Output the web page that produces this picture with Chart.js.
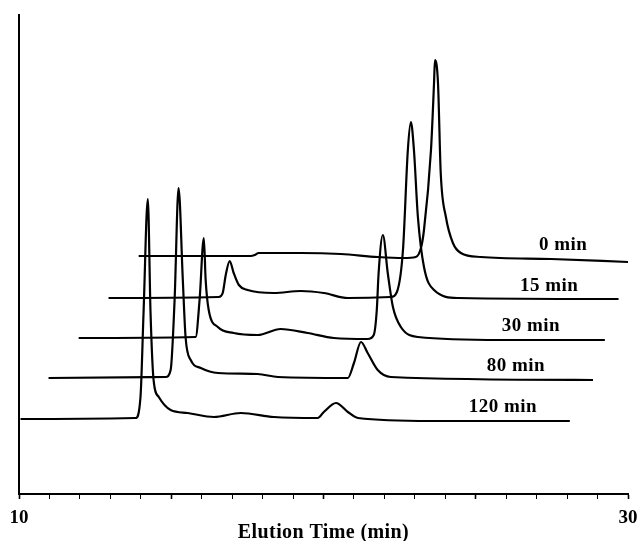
<!DOCTYPE html>
<html>
<head>
<meta charset="utf-8">
<script src="https://cdn.jsdelivr.net/npm/chart.js@4"></script>
<style>
  html, body { margin: 0; padding: 0; background: #fff; overflow: hidden; }
</style>
</head>
<body>
<canvas id="chart" width="642" height="541"></canvas>
<script>
// Elution time (min) as read on the x axis, signal relative to each trace's own baseline
const time0 = [13.93, 17.61, 17.74, 17.87, 19.25, 20.57, 21.78, 22.64, 23.03, 23.20, 23.30, 23.53, 23.63, 23.66, 23.76, 23.85, 24.02, 24.25, 24.51, 25.17, 27.47, 30.0];
const signal0 = [0.2, 0.2, 0.4, 0.8, 0.8, 0.6, 0, -0.2, 0, 1.8, 5.4, 21.4, 34.8, 39.4, 34.8, 16.8, 8, 2.8, 0.8, 0, -0.4, -1];

const time15 = [12.94, 16.56, 16.69, 16.79, 16.92, 17.05, 17.22, 17.51, 18.37, 19.25, 20.01, 20.80, 22.21, 22.41, 22.61, 22.77, 22.87, 22.97, 23.10, 23.30, 23.63, 24.42, 29.69];
const signal15 = [0, 0.2, 1, 4.6, 7.4, 5, 2.6, 1.6, 1, 1.4, 1, 0, 0.2, 1.2, 9.6, 29.6, 35.2, 29.6, 16.2, 6.2, 1.6, 0, -0.2];

const time30 = [11.96, 15.80, 15.93, 16.07, 16.13, 16.23, 16.53, 17.05, 17.84, 18.59, 19.48, 20.34, 21.45, 21.65, 21.75, 21.81, 21.95, 22.11, 22.28, 22.54, 23.10, 25.83, 29.24];
const signal30 = [0, 0.2, 7.6, 20, 11.6, 5.6, 2.2, 1, 0.6, 1.8, 1, 0, -0.2, 0.6, 5.6, 13, 20.6, 13, 6.2, 2.2, 0.2, -0.4, -0.4];

const time80 = [10.97, 14.82, 14.98, 15.11, 15.24, 15.38, 15.47, 15.64, 15.97, 16.53, 17.84, 18.50, 20.80, 21.00, 21.23, 21.45, 21.78, 22.21, 28.85];
const signal80 = [0, 0.2, 1.6, 15.6, 38, 19.6, 8.2, 3.6, 2, 1, 0.8, 0.2, 0, 3, 7.2, 5, 1.6, 0.2, -0.4];

const time120 = [10.05, 13.83, 13.99, 14.09, 14.23, 14.32, 14.42, 14.59, 14.98, 15.54, 16.40, 17.28, 18.37, 19.81, 20.01, 20.41, 20.80, 21.13, 23.52, 28.09];
const signal120 = [0, 0.2, 4.4, 21.2, 44, 21.2, 7.8, 4.4, 1.8, 1.2, 0.4, 1.2, 0.4, 0.2, 1.4, 3.2, 1.4, 0.2, -0.4, -0.4];

const traceLabels = ['0 min', '15 min', '30 min', '80 min', '120 min'];
const traceOffsets = [46.6, 38.4, 30.4, 22.4, 14.2];
const xTickLabels = [10, 30];

const traces = [
    [time0, signal0],
    [time15, signal15],
    [time30, signal30],
    [time80, signal80],
    [time120, signal120]
];

// where each "xx min" label sits (x in minutes, y above its baseline)
const labelX = [27.87, 27.41, 26.81, 26.32, 25.89];
const labelRise = 2.4;

const serif = '"Liberation Serif", "Times New Roman", serif';

const traceLabelPlugin = {
    id: 'traceLabels',
    afterDatasetsDraw(chart) {
        const { ctx, scales, chartArea } = chart;
        ctx.save();
        ctx.fillStyle = '#000';
        ctx.font = 'bold 19px ' + serif;
        ctx.letterSpacing = '0.5px';
        ctx.textAlign = 'center';
        ctx.textBaseline = 'middle';
        traceLabels.forEach((label, i) => {
            const x = scales.x.getPixelForValue(labelX[i]);
            const y = scales.y.getPixelForValue(traceOffsets[i] + labelRise);
            ctx.fillText(label, x, y);
        });
        // axis title sits a little lower than the 10 / 30 labels
        ctx.font = 'bold 20px ' + serif;
        ctx.letterSpacing = '0.4px';
        ctx.fillText('Elution Time (min)', (chartArea.left + chartArea.right) / 2, chartArea.bottom + 39);
        ctx.restore();
    }
};

new Chart(document.getElementById('chart'), {
    type: 'line',
    data: {
        datasets: traces.map((tr, i) => ({
            label: traceLabels[i],
            data: tr[0].map((t, k) => ({ x: t, y: tr[1][k] + traceOffsets[i] })),
            borderColor: '#000',
            borderWidth: 2.2,
            pointRadius: 0,
            fill: false,
            cubicInterpolationMode: 'monotone',
            clip: false
        }))
    },
    options: {
        responsive: false,
        animation: false,
        layout: { padding: { top: 15, left: 19, right: 14, bottom: 5 } },
        plugins: {
            legend: { display: false },
            tooltip: { enabled: false }
        },
        scales: {
            x: {
                type: 'linear',
                min: 10,
                max: 30,
                afterFit(scale) {
                    // let the end labels hang outside, keep the axis band tight
                    scale.paddingLeft = 0;
                    scale.paddingRight = 0;
                    scale.height = 42;
                },
                border: { display: true, color: '#000', width: 2 },
                grid: {
                    drawOnChartArea: false,
                    drawTicks: true,
                    tickLength: 5,
                    tickColor: '#000',
                    tickWidth: ctx => (ctx.tick && ctx.tick.value % 5 === 0 ? 1.6 : 1)
                },
                ticks: {
                    stepSize: 1,
                    autoSkip: false,
                    maxRotation: 0,
                    padding: 8,
                    color: '#000',
                    font: { family: serif, size: 19, weight: 'bold' },
                    callback: v => (xTickLabels.includes(v) ? String(v) : '')
                }
            },
            y: {
                min: -0.8,
                max: 95,
                border: { display: true, color: '#000', width: 2 },
                grid: { drawOnChartArea: false, drawTicks: false },
                ticks: { display: false }
            }
        }
    },
    plugins: [traceLabelPlugin]
});
</script>
</body>
</html>
